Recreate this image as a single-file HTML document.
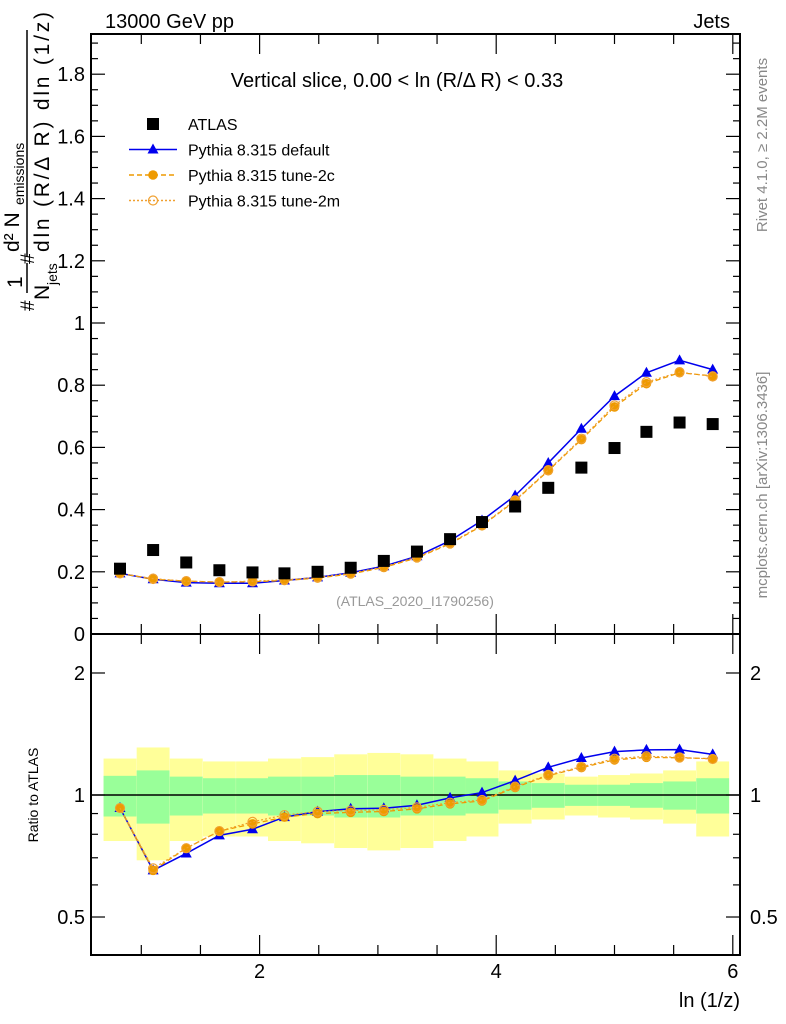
<!DOCTYPE html>
<html><head><meta charset="utf-8"><style>
body{margin:0;background:#fff;}
svg{display:block;font-family:"Liberation Sans",Arial,sans-serif;}
</style></head><body>
<svg id="chart" width="786" height="1024" viewBox="0 0 786 1024" xmlns="http://www.w3.org/2000/svg">
<g id="bands"></g>
<g id="marks"></g>
<g id="axes"></g>
<text x="105" y="28" font-size="20">13000 GeV pp</text>
<text x="730" y="28" font-size="20" text-anchor="end">Jets</text>
<text x="397" y="87" font-size="20" text-anchor="middle">Vertical slice, 0.00 &lt; ln (R/Δ R) &lt; 0.33</text>
<text x="415" y="606" font-size="14" fill="#999" text-anchor="middle">(ATLAS_2020_I1790256)</text>
<text transform="translate(767,145) rotate(-90)" font-size="15" fill="#888" text-anchor="middle">Rivet 4.1.0, ≥ 2.2M events</text>
<text transform="translate(767,485) rotate(-90)" font-size="15" fill="#888" text-anchor="middle">mcplots.cern.ch [arXiv:1306.3436]</text>
<g font-size="21">
<text transform="translate(34,311) rotate(-90)" font-size="19">#</text>
<text transform="translate(22,288) rotate(-90)">1</text>
<line x1="27" y1="293" x2="27" y2="263" stroke="#000" stroke-width="1.5"/>
<text transform="translate(49,300) rotate(-90)">N</text>
<text transform="translate(57,285) rotate(-90)" font-size="14">jets</text>
<text transform="translate(34,264) rotate(-90)" font-size="19">#</text>
<text transform="translate(19,252) rotate(-90)">d² N</text>
<text transform="translate(24,205) rotate(-90)" font-size="14">emissions</text>
<line x1="27" y1="257" x2="27" y2="30" stroke="#000" stroke-width="1.5"/>
<text transform="translate(49,252) rotate(-90)" textLength="240">dln (R/Δ R) dln (1/z)</text>
</g>
<text transform="translate(38,795) rotate(-90)" font-size="14" text-anchor="middle">Ratio to ATLAS</text>
<text x="740" y="1007" font-size="20" text-anchor="end">ln (1/z)</text>
<g id="legend"></g>
</svg>
<script>
const xCenters=[0.82,1.10,1.38,1.66,1.94,2.21,2.49,2.77,3.05,3.33,3.61,3.88,4.16,4.44,4.72,5.00,5.27,5.55,5.83];
const atlas=[0.21,0.27,0.23,0.205,0.198,0.195,0.2,0.213,0.235,0.265,0.305,0.36,0.41,0.47,0.535,0.598,0.65,0.68,0.675];
const pyDefault=[0.195,0.176,0.165,0.163,0.163,0.172,0.182,0.197,0.218,0.25,0.3,0.365,0.445,0.55,0.66,0.765,0.84,0.88,0.85];
const pyTune2c=[0.195,0.176,0.17,0.167,0.168,0.172,0.18,0.193,0.214,0.245,0.29,0.348,0.428,0.525,0.625,0.73,0.805,0.84,0.83];
const pyTune2m=[0.195,0.178,0.17,0.167,0.17,0.174,0.182,0.195,0.216,0.247,0.292,0.35,0.43,0.527,0.628,0.735,0.81,0.842,0.828];
const errInner=[0.115,0.15,0.11,0.10,0.10,0.11,0.11,0.12,0.12,0.11,0.11,0.10,0.08,0.07,0.06,0.06,0.07,0.08,0.10];
const errOuter=[0.23,0.31,0.23,0.21,0.21,0.23,0.24,0.26,0.27,0.26,0.23,0.21,0.15,0.13,0.11,0.12,0.13,0.15,0.21];
const yTicksMain=[0,0.2,0.4,0.6,0.8,1,1.2,1.4,1.6,1.8];
const yTicksRatio=[0.5,1,2];
const xTicks=[2,4,6];

const NS="http://www.w3.org/2000/svg";
const L=91,R=740,T=34,MB=634,RB=955;
const X=v=>23+118.3*v;
const Y=v=>634-311*v;
const YR=v=>795-405.3*Math.log10(v);
function mk(tag,attrs,parent){const e=document.createElementNS(NS,tag);for(const k in attrs)e.setAttribute(k,attrs[k]);parent.appendChild(e);return e;}
const bands=document.getElementById('bands'),marks=document.getElementById('marks'),axes=document.getElementById('axes'),leg=document.getElementById('legend');
const hw=0.139;
xCenters.forEach((c,i)=>{
  const r1=mk('rect',{x:X(c-hw),y:YR(1+errOuter[i]),width:X(c+hw)-X(c-hw),height:YR(1-errOuter[i])-YR(1+errOuter[i]),fill:'#ffff99'},bands);
  
  
  const r2=mk('rect',{x:X(c-hw),y:YR(1+errInner[i]),width:X(c+hw)-X(c-hw),height:YR(1-errInner[i])-YR(1+errInner[i]),fill:'#99ff99'},bands);
  
  
});
mk('line',{x1:L,y1:795,x2:R,y2:795,stroke:'#000','stroke-width':1.5},bands);
const series=[
 {name:'pythia-default',vals:pyDefault,color:'#0000ee',dash:'',marker:'tri',w:1.5},
 {name:'pythia-tune-2c',vals:pyTune2c,color:'#ee9a00',dash:'5,3',marker:'dot',w:1.3},
 {name:'pythia-tune-2m',vals:pyTune2m,color:'#f0a030',dash:'2,2',marker:'ring',w:1.2}
];
function marker(type,x,y,color,parent,nm){
  let e;
  if(type==='tri') e=mk('path',{d:`M${x} ${y-6}L${x+5.5} ${y+4}L${x-5.5} ${y+4}Z`,fill:color},parent);
  else if(type==='dot') e=mk('circle',{cx:x,cy:y,r:4.8,fill:color},parent);
  else if(type==='ring') e=mk('circle',{cx:x,cy:y,r:4.5,fill:'none',stroke:color,'stroke-width':1.2},parent);
  else e=mk('rect',{x:x-6,y:y-6,width:12,height:12,fill:color},parent);
  
  
}
series.forEach(s=>{
  const g=mk('g',{},marks);
  
  
  const pm=s.vals.map((v,i)=>X(xCenters[i])+','+Y(v)).join(' ');
  mk('polyline',{points:pm,fill:'none',stroke:s.color,'stroke-width':s.w,'stroke-dasharray':s.dash},g);
  const pr=s.vals.map((v,i)=>X(xCenters[i])+','+YR(v/atlas[i])).join(' ');
  mk('polyline',{points:pr,fill:'none',stroke:s.color,'stroke-width':s.w,'stroke-dasharray':s.dash},g);
  s.vals.forEach((v,i)=>{
    marker(s.marker,X(xCenters[i]),Y(v),s.color,g,s.name+'-point');
    marker(s.marker,X(xCenters[i]),YR(v/atlas[i]),s.color,g,s.name+'-ratio-point');
  });
});
const ga=mk('g',{},marks);


atlas.forEach((v,i)=>marker('sq',X(xCenters[i]),Y(v),'#000',ga,'atlas-point'));
mk('rect',{x:L,y:T,width:R-L,height:MB-T,fill:'none',stroke:'#000','stroke-width':2},axes);
mk('rect',{x:L,y:MB,width:R-L,height:RB-MB,fill:'none',stroke:'#000','stroke-width':2},axes);
for(let v=0;v<=1.92;v+=0.05){const y=Y(v);if(y<T)break;const maj=Math.abs(v/0.2-Math.round(v/0.2))<1e-6;const l=maj?14:7;
 mk('line',{x1:L,y1:y,x2:L+l,y2:y,stroke:'#000','stroke-width':1.2},axes);mk('line',{x1:R,y1:y,x2:R-l,y2:y,stroke:'#000','stroke-width':1.2},axes);}
yTicksMain.forEach(v=>{const t=mk('text',{x:L-6,y:Y(v)+7,'font-size':20,'text-anchor':'end'},axes);t.textContent=String(v);
 
 });
[0.4,0.5,0.6,0.7,0.8,0.9,1,2].forEach(v=>{const y=YR(v);if(y>RB||y<MB)return;const maj=yTicksRatio.includes(v);const l=maj?14:7;
 mk('line',{x1:L,y1:y,x2:L+l,y2:y,stroke:'#000','stroke-width':1.2},axes);mk('line',{x1:R,y1:y,x2:R-l,y2:y,stroke:'#000','stroke-width':1.2},axes);});
yTicksRatio.forEach(v=>{
 const t=mk('text',{x:L-6,y:YR(v)+7,'font-size':20,'text-anchor':'end'},axes);t.textContent=String(v);
 
 
 const t2=mk('text',{x:R+10,y:YR(v)+7,'font-size':20},axes);t2.textContent=String(v);
 
 });
for(let v=1;v<=6.01;v+=0.5){const x=X(v);if(x<L||x>R)continue;const maj=xTicks.includes(v);const l=maj?20:10;
 [[MB,-1],[T,1],[RB,-1],[MB,1]].forEach(([y0,d])=>mk('line',{x1:x,y1:y0,x2:x,y2:y0+d*l,stroke:'#000','stroke-width':1.2},axes));}
xTicks.forEach(v=>{const t=mk('text',{x:X(v),y:978,'font-size':20,'text-anchor':'middle'},axes);t.textContent=String(v);
 
 });
const legItems=[['ATLAS','sq','#000',''],['Pythia 8.315 default','tri','#0000ee',''],['Pythia 8.315 tune-2c','dot','#ee9a00','5,3'],['Pythia 8.315 tune-2m','ring','#f0a030','2,2']];
legItems.forEach((it,i)=>{const y=124+25.5*i;
 const g=mk('g',{},leg);
 
 
 if(i>0)mk('line',{x1:129,y1:y,x2:177,y2:y,stroke:it[2],'stroke-width':1.5,'stroke-dasharray':it[3]},g);
 marker(it[1],153,y,it[2],g,'legend-marker');
 const t=mk('text',{x:188,y:y+6,'font-size':16},g);t.textContent=it[0];});
</script>
</body></html>
